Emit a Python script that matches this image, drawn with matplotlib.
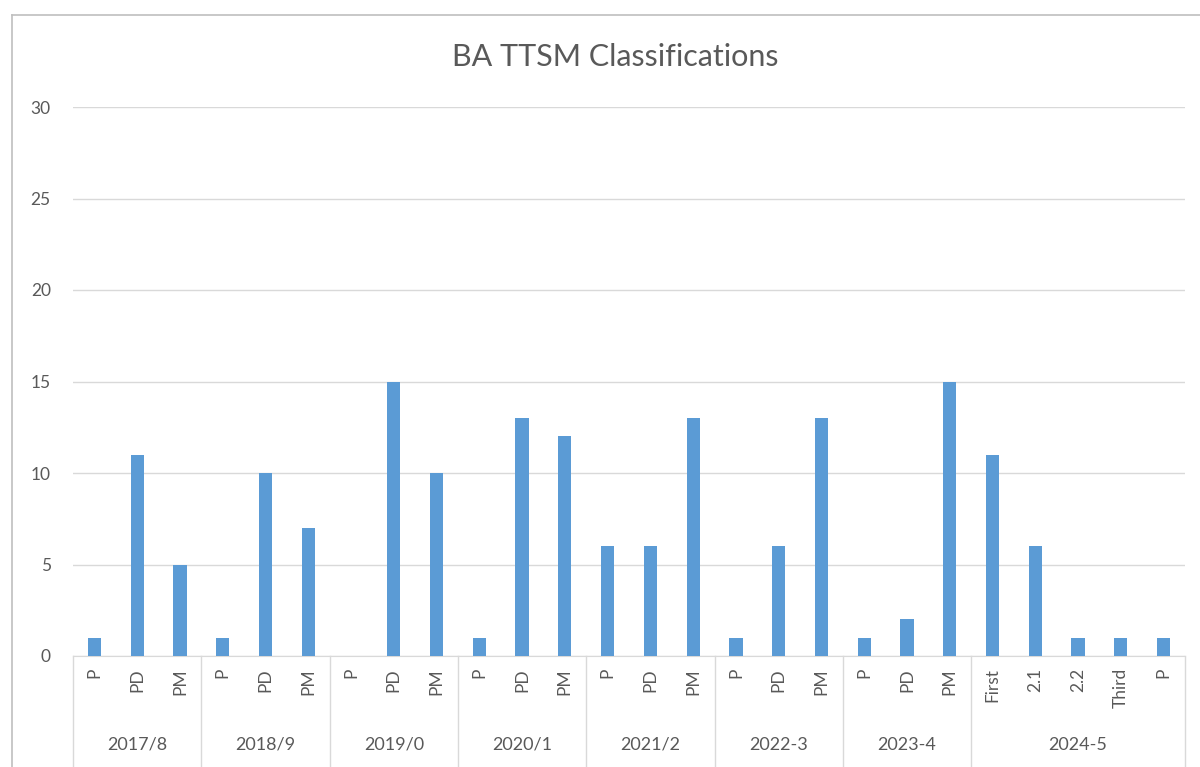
import matplotlib.pyplot as plt
from matplotlib.lines import Line2D
import matplotlib.transforms as mtransforms

plt.rcParams['font.family'] = ['Lato', 'DejaVu Sans']

# data
groups = ['2017/8', '2018/9', '2019/0', '2020/1', '2021/2', '2022-3', '2023-4', '2024-5']
group_cats = [
    ['P', 'PD', 'PM'],
    ['P', 'PD', 'PM'],
    ['P', 'PD', 'PM'],
    ['P', 'PD', 'PM'],
    ['P', 'PD', 'PM'],
    ['P', 'PD', 'PM'],
    ['P', 'PD', 'PM'],
    ['First', '2.1', '2.2', 'Third', 'P'],
]
group_vals = [
    [1, 11, 5],
    [1, 10, 7],
    [0, 15, 10],
    [1, 13, 12],
    [6, 6, 13],
    [1, 6, 13],
    [1, 2, 15],
    [11, 6, 1, 1, 1],
]

bar_color = '#5B9BD5'
text_color = '#595959'
line_color = '#D9D9D9'

cats = [c for g in group_cats for c in g]
vals = [v for g in group_vals for v in g]
xs = list(range(len(cats)))

fig = plt.figure(figsize=(12, 7.67), dpi=100)
ax = fig.add_axes([73 / 1200, 111 / 767, (1185 - 73) / 1200, 549 / 767])

ax.bar(xs, vals, width=0.31, color=bar_color, zorder=3)
ax.set_xlim(-0.5, len(cats) - 0.5)
ax.set_ylim(0, 30)
ax.set_yticks(range(0, 31, 5))
ax.grid(axis='y', color=line_color, linewidth=1, zorder=0)
ax.tick_params(axis='y', length=0, pad=16, labelsize=12.5, labelcolor=text_color)
ax.set_xticks([])
for s in ['top', 'right', 'left']:
    ax.spines[s].set_visible(False)
ax.spines['bottom'].set_color(line_color)

trans = mtransforms.blended_transform_factory(ax.transData, ax.transAxes)

# inner category labels
for x, c in zip(xs, cats):
    ax.text(x, -0.022, c, rotation=90, ha='center', va='top', fontsize=12.5,
            color=text_color, transform=trans)

# group labels and separators
start = 0
bounds = [-0.5]
for g, gc in zip(groups, group_cats):
    end = start + len(gc)
    ax.text((start + end - 1) / 2, -0.162, g, ha='center', va='center',
            fontsize=13, color=text_color, transform=trans)
    bounds.append(end - 0.5)
    start = end
for b in bounds:
    ax.add_line(Line2D([b, b], [0, -0.21], color=line_color, linewidth=1,
                       transform=trans, clip_on=False))

# chart frame
fig.add_artist(Line2D([12 / 1200, 12 / 1200], [0, 1 - 15 / 767], color='#BFBFBF',
                      linewidth=1.2, transform=fig.transFigure))
fig.add_artist(Line2D([12 / 1200, 1], [1 - 15 / 767, 1 - 15 / 767], color='#BFBFBF',
                      linewidth=1.2, transform=fig.transFigure))

fig.text(615 / 1200, 1 - 57 / 767, 'BA TTSM Classifications', ha='center', va='center',
         fontsize=22, color=text_color)

fig.savefig('out.png', dpi=100)
